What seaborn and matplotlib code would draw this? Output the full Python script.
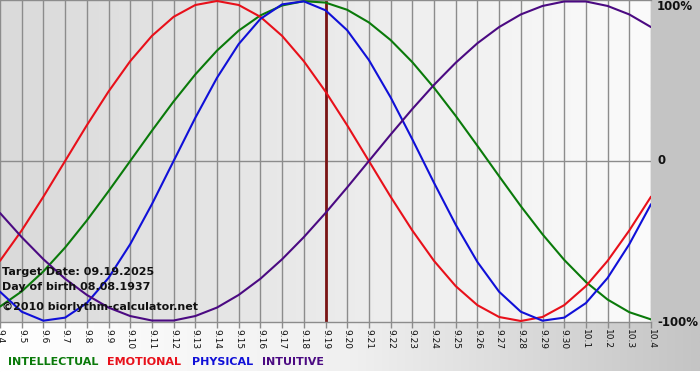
import numpy as np
import pandas as pd
import matplotlib
matplotlib.use("Agg")
import matplotlib.pyplot as plt
from matplotlib.colors import LinearSegmentedColormap
import seaborn as sns

# day labels, 9.4 .. 10.4
day_labels = ["9.%d" % d for d in range(4, 31)] + ["10.%d" % d for d in range(1, 5)]
target_idx = day_labels.index("9.19")

# values (-1 .. 1)
physical = [-0.817, -0.942, -0.998, -0.979, -0.888, -0.731, -0.520, -0.270, 0.0, 0.270,
            0.520, 0.731, 0.888, 0.979, 0.998, 0.942, 0.817, 0.631, 0.398, 0.136,
            -0.136, -0.398, -0.631, -0.817, -0.942, -0.998, -0.979, -0.888, -0.731, -0.520,
            -0.270]
emotional = [-0.624, -0.434, -0.223, 0.0, 0.223, 0.434, 0.624, 0.782, 0.901, 0.975,
             1.0, 0.975, 0.901, 0.782, 0.624, 0.434, 0.223, 0.0, -0.223, -0.434,
             -0.624, -0.782, -0.901, -0.975, -1.0, -0.975, -0.901, -0.782, -0.624, -0.434,
             -0.223]
intellectual = [-0.910, -0.815, -0.690, -0.541, -0.372, -0.189, 0.0, 0.189, 0.372, 0.541,
                0.690, 0.815, 0.910, 0.972, 0.999, 0.990, 0.945, 0.866, 0.756, 0.618,
                0.458, 0.282, 0.095, -0.095, -0.282, -0.458, -0.618, -0.756, -0.866, -0.945,
                -0.990]
intuitive = [-0.325, -0.476, -0.614, -0.736, -0.837, -0.916, -0.969, -0.997, -0.997, -0.969,
             -0.916, -0.837, -0.736, -0.614, -0.476, -0.325, -0.165, 0.0, 0.165, 0.325,
             0.476, 0.614, 0.736, 0.837, 0.916, 0.969, 0.997, 0.997, 0.969, 0.916,
             0.837]

cycles = ["INTELLECTUAL", "EMOTIONAL", "PHYSICAL", "INTUITIVE"]
colors = {"INTELLECTUAL": "#0a7a0a", "EMOTIONAL": "#e8101a",
          "PHYSICAL": "#1010d8", "INTUITIVE": "#4b0a82"}

rows = []
for name, vals in zip(cycles, [intellectual, emotional, physical, intuitive]):
    for i, v in enumerate(vals):
        rows.append({"day": i, "value": v, "cycle": name})
df = pd.DataFrame(rows)

W, H = 700, 380
sns.set_theme(style="white")
plt.rcParams["font.family"] = ["DejaVu Sans"]

fig = plt.figure(figsize=(W / 100, H / 100), dpi=100)
fig.patch.set_facecolor("#c4c4c4")


def fx(px):
    return px / W


def fy(py):
    return 1 - py / H


# white strip at the very bottom, gradient band under the plot
strip = fig.add_axes([0, 0, 1, fy(371)])
strip.set_axis_off()
strip.add_patch(plt.Rectangle((0, 0), 1, 1, color="white", transform=strip.transAxes))

band = fig.add_axes([0, fy(371), 1, fy(322) - fy(371)])
band.set_axis_off()
band_cmap = LinearSegmentedColormap.from_list("band", ["#ffffff", "#f0f0f0", "#c4c4c4"])
band.imshow(np.linspace(0, 1, 256)[None, :], cmap=band_cmap, aspect="auto", extent=[0, 1, 0, 1])

ax = fig.add_axes([0, fy(322), fx(651), fy(0) - fy(322)])
bg_cmap = LinearSegmentedColormap.from_list("bg", ["#dadada", "#fbfbfb"])
ax.imshow(np.linspace(0, 1, 256)[None, :], cmap=bg_cmap, aspect="auto",
          extent=[0, len(day_labels) - 1, -1.1, 1.1], zorder=0)

ax.set_xticks(range(len(day_labels)))
ax.set_xticklabels(day_labels)
ax.grid(axis="x", color="#8c8c8c", lw=1)
ax.set_axisbelow(True)
ax.axhline(0, color="#8c8c8c", lw=1, zorder=1)
ax.axvline(target_idx, color="#7a1414", lw=2, zorder=2)

sns.lineplot(data=df, x="day", y="value", hue="cycle", hue_order=cycles,
             palette=colors, lw=1.5, legend=False, ax=ax, zorder=3)

ax.set_xlim(0, len(day_labels) - 1)
ax.set_ylim(-1.00625, 1.00625)
ax.set_yticks([])
ax.set_xlabel("")
ax.set_ylabel("")
for side in ["left", "right"]:
    ax.spines[side].set_visible(False)
for side in ["top", "bottom"]:
    ax.spines[side].set_color("#8c8c8c")
    ax.spines[side].set_linewidth(1)
ax.tick_params(axis="x", direction="out", length=4, width=1, color="#8c8c8c",
               labelsize=6.5, labelrotation=-90, pad=1, labelcolor="#111111", bottom=True)

# info text over the plot
info = ["Target Date: 09.19.2025", "Day of birth 08.08.1937", "\u00a92010 biorlythm-calculator.net"]
for txt, py in zip(info, [272, 287, 307]):
    fig.text(fx(2), fy(py), txt, fontsize=8, fontweight="bold", color="#111111",
             va="center", ha="left", zorder=10)

# percent labels on the right
for txt, py in zip(["100%", "0", "-100%"], [7, 161, 322]):
    fig.text(fx(657), fy(py), txt, fontsize=8.5, fontweight="bold", color="#111111",
             va="center", ha="left")

# legend row
for name, px in zip(cycles, [8, 107, 192, 262]):
    fig.text(fx(px), fy(362), name, fontsize=8, fontweight="bold", color=colors[name],
             va="center", ha="left")

fig.savefig("out.png", dpi=100)
